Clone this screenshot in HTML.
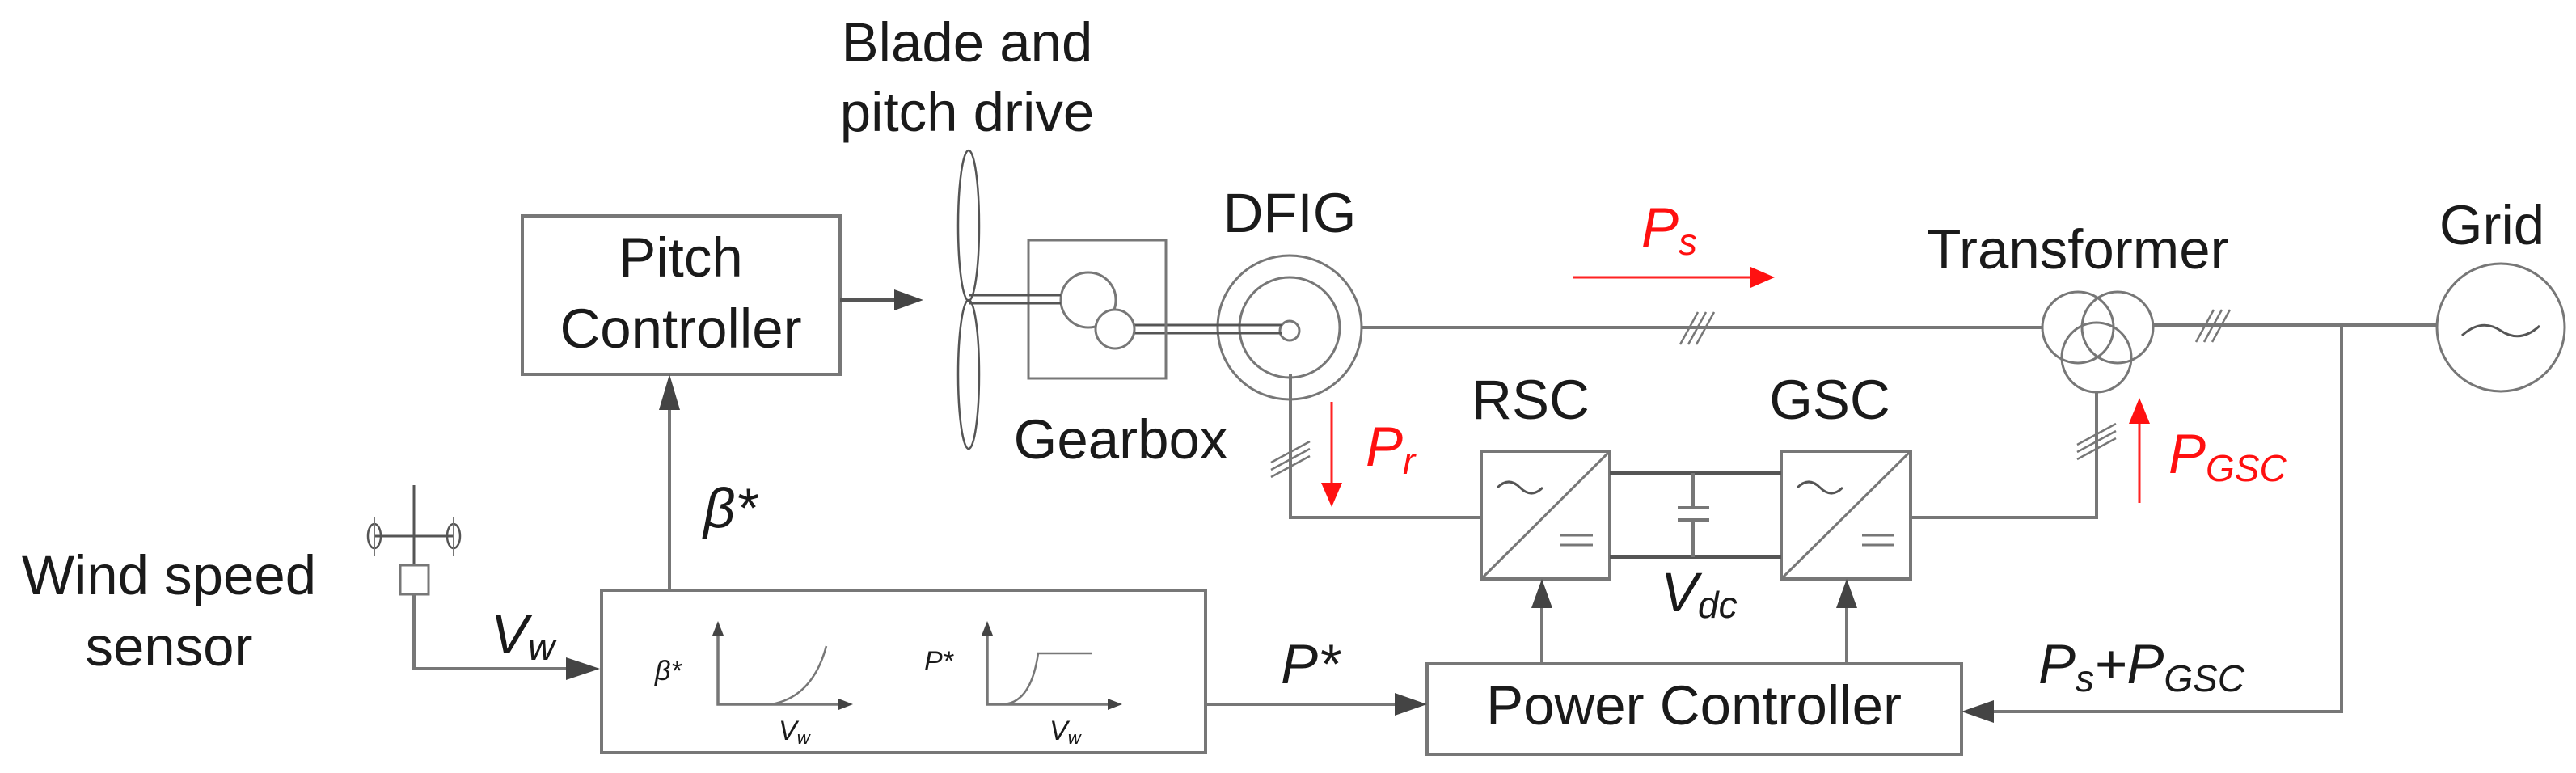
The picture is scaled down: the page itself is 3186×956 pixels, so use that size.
<!DOCTYPE html>
<html><head><meta charset="utf-8"><style>
html,body{margin:0;padding:0;background:#fff;}
svg{display:block;}
text{font-family:"Liberation Sans",Arial,sans-serif;fill:#1a1a1a;}
.i{font-style:italic;}
.r{fill:#ff1010;}
</style></head><body>
<svg width="3186" height="956" viewBox="0 0 3186 956" xmlns="http://www.w3.org/2000/svg">
<g fill="none" stroke="#777" stroke-width="4">
<rect x="646" y="267" width="393" height="196"/>
<line x1="1039" y1="371" x2="1110" y2="371" stroke="#555"/>
<line x1="828" y1="730" x2="828" y2="500"/>
<line x1="512" y1="600" x2="512" y2="699" stroke="#555" stroke-width="3"/>
<line x1="463" y1="663" x2="561" y2="663" stroke="#555" stroke-width="3"/>
<ellipse cx="463" cy="663" rx="8" ry="15" stroke="#555" stroke-width="2.5"/>
<ellipse cx="561" cy="663" rx="8" ry="15" stroke="#555" stroke-width="2.5"/>
<line x1="463" y1="640" x2="463" y2="688" stroke="#777" stroke-width="2"/>
<line x1="561" y1="640" x2="561" y2="688" stroke="#777" stroke-width="2"/>
<rect x="495" y="699" width="35" height="36" stroke-width="3"/>
<polyline points="512,735 512,827 712,827"/>
<rect x="744" y="730" width="747" height="201"/>
<polyline points="888,785 888,871 1040,871" stroke-width="3.5"/>
<path d="M954,871 Q1005,862 1022,799" stroke-width="2.5"/>
<polyline points="1221,785 1221,871 1378,871" stroke-width="3.5"/>
<path d="M1240,871 Q1275,870 1284,808 L1351,808" stroke-width="2.5"/>
<line x1="1491" y1="871" x2="1735" y2="871"/>
<rect x="1765" y="821" width="661" height="112"/>
<line x1="1907" y1="821" x2="1907" y2="745"/>
<line x1="2284" y1="821" x2="2284" y2="745"/>
<polyline points="2896,402 2896,880 2456,880"/>
<rect x="1832" y="558" width="159" height="158"/>
<line x1="1832" y1="716" x2="1991" y2="558" stroke-width="3"/>
<rect x="2203" y="558" width="160" height="158"/>
<line x1="2203" y1="716" x2="2363" y2="558" stroke-width="3"/>
<line x1="1991" y1="585" x2="2203" y2="585" stroke="#555"/>
<line x1="1991" y1="689" x2="2203" y2="689" stroke="#555"/>
<line x1="2094" y1="585" x2="2094" y2="628"/>
<line x1="2094" y1="643" x2="2094" y2="689"/>
<line x1="2075" y1="628" x2="2114" y2="628"/>
<line x1="2075" y1="643" x2="2114" y2="643"/>
<path d="M1852,603 q14,-14 28,0 t28,0" stroke="#555" stroke-width="3"/>
<line x1="1930" y1="662" x2="1970" y2="662" stroke-width="3"/>
<line x1="1930" y1="674" x2="1970" y2="674" stroke-width="3"/>
<path d="M2223,603 q14,-14 28,0 t28,0" stroke="#555" stroke-width="3"/>
<line x1="2303" y1="662" x2="2343" y2="662" stroke-width="3"/>
<line x1="2303" y1="674" x2="2343" y2="674" stroke-width="3"/>
<line x1="1684" y1="405" x2="2526" y2="405"/>
<line x1="2663" y1="402" x2="3014" y2="402"/>
<polyline points="1596,463 1596,640 1832,640"/>
<polyline points="2363,640 2593,640 2593,485"/>
<g stroke-width="2.5">
<line x1="2078" y1="426" x2="2100" y2="386"/><line x1="2088" y1="426" x2="2110" y2="386"/><line x1="2098" y1="426" x2="2120" y2="386"/>
<line x1="2716" y1="423" x2="2738" y2="383"/><line x1="2726" y1="423" x2="2748" y2="383"/><line x1="2736" y1="423" x2="2758" y2="383"/>
<line x1="1572" y1="572" x2="1620" y2="546"/><line x1="1572" y1="581" x2="1620" y2="555"/><line x1="1572" y1="590" x2="1620" y2="564"/>
<line x1="2569" y1="550" x2="2617" y2="524"/><line x1="2569" y1="559" x2="2617" y2="533"/><line x1="2569" y1="568" x2="2617" y2="542"/>
</g>
<circle cx="2570" cy="405" r="44" stroke-width="3"/>
<circle cx="2619" cy="405" r="44" stroke-width="3"/>
<circle cx="2593" cy="442" r="43" stroke-width="3"/>
<circle cx="3093" cy="405" r="79" stroke-width="3"/>
<path d="M3045,415 q24,-22 48,-6 t48,-6" stroke="#555" stroke-width="3"/>
<circle cx="1595" cy="405" r="89" stroke-width="3"/>
<circle cx="1595" cy="405" r="62" stroke-width="3"/>
<circle cx="1595" cy="409" r="12" stroke-width="3"/>
<line x1="1402" y1="402" x2="1585" y2="402" stroke="#555" stroke-width="3"/>
<line x1="1402" y1="412" x2="1585" y2="412" stroke="#555" stroke-width="3"/>
<rect x="1272" y="297" width="170" height="171" stroke-width="3"/>
<circle cx="1346" cy="371" r="34" stroke-width="3"/>
<circle cx="1379" cy="407" r="24" stroke-width="3" fill="#fff"/>
<line x1="1198" y1="365" x2="1312" y2="365" stroke="#555" stroke-width="3"/>
<line x1="1198" y1="375" x2="1312" y2="375" stroke="#555" stroke-width="3"/>
<ellipse cx="1198" cy="279" rx="13" ry="93" stroke="#555" stroke-width="2.5"/>
<ellipse cx="1198" cy="463" rx="13" ry="92" stroke="#555" stroke-width="2.5"/>
<line x1="1946" y1="343" x2="2170" y2="343" stroke="#f22" stroke-width="3"/>
<line x1="1647" y1="497" x2="1647" y2="600" stroke="#f22" stroke-width="3"/>
<line x1="2646" y1="622" x2="2646" y2="520" stroke="#f22" stroke-width="3"/>
</g>
<g fill="#444">
<polygon points="1142,371 1106,358 1106,384"/>
<polygon points="828,463 815,507 841,507"/>
<polygon points="742,827 700,813 700,841"/>
<polygon points="888,768 881,786 895,786"/>
<polygon points="1055,871 1037,864 1037,878"/>
<polygon points="1221,768 1214,786 1228,786"/>
<polygon points="1388,871 1370,864 1370,878"/>
<polygon points="1765,871 1725,857 1725,885"/>
<polygon points="1907,716 1894,752 1920,752"/>
<polygon points="2284,716 2271,752 2297,752"/>
<polygon points="2426,880 2466,866 2466,894"/>
</g>
<g fill="#f11">
<polygon points="2195,343 2165,330 2165,356"/>
<polygon points="1647,627 1634,597 1660,597"/>
<polygon points="2646,492 2633,524 2659,524"/>
</g>
<g font-size="69">
<text x="842" y="342" text-anchor="middle">Pitch</text>
<text x="842" y="430" text-anchor="middle">Controller</text>
<text x="1196" y="76" text-anchor="middle">Blade and</text>
<text x="1196" y="162" text-anchor="middle">pitch drive</text>
<text x="1595" y="287" text-anchor="middle">DFIG</text>
<text x="1386" y="567" text-anchor="middle">Gearbox</text>
<text x="1893" y="518" text-anchor="middle">RSC</text>
<text x="2263" y="518" text-anchor="middle">GSC</text>
<text x="2570" y="332" text-anchor="middle">Transformer</text>
<text x="3082" y="302" text-anchor="middle">Grid</text>
<text x="209" y="735" text-anchor="middle">Wind speed</text>
<text x="209" y="823" text-anchor="middle">sensor</text>
<text x="2095" y="896" text-anchor="middle">Power Controller</text>
<text x="870" y="652" class="i">β*</text>
<text x="607" y="808" class="i">V<tspan font-size="46" dy="8">w</tspan></text>
<text x="1584" y="845" class="i">P*</text>
<text x="2054" y="756" class="i">V<tspan font-size="46" dy="8">dc</tspan></text>
<text x="2521" y="845" class="i">P<tspan font-size="46" dy="10">s</tspan><tspan dy="-10">+P</tspan><tspan font-size="46" dy="10">GSC</tspan></text>
<text x="2030" y="305" class="i r">P<tspan font-size="46" dy="10">s</tspan></text>
<text x="1689" y="576" class="i r">P<tspan font-size="46" dy="10">r</tspan></text>
<text x="2682" y="585" class="i r">P<tspan font-size="46" dy="10">GSC</tspan></text>
</g>
<g font-size="34" class="i">
<text x="810" y="841" class="i">β*</text>
<text x="963" y="915" class="i">V<tspan font-size="22" dy="5">w</tspan></text>
<text x="1143" y="829" class="i">P*</text>
<text x="1298" y="915" class="i">V<tspan font-size="22" dy="5">w</tspan></text>
</g>
</svg>
</body></html>
